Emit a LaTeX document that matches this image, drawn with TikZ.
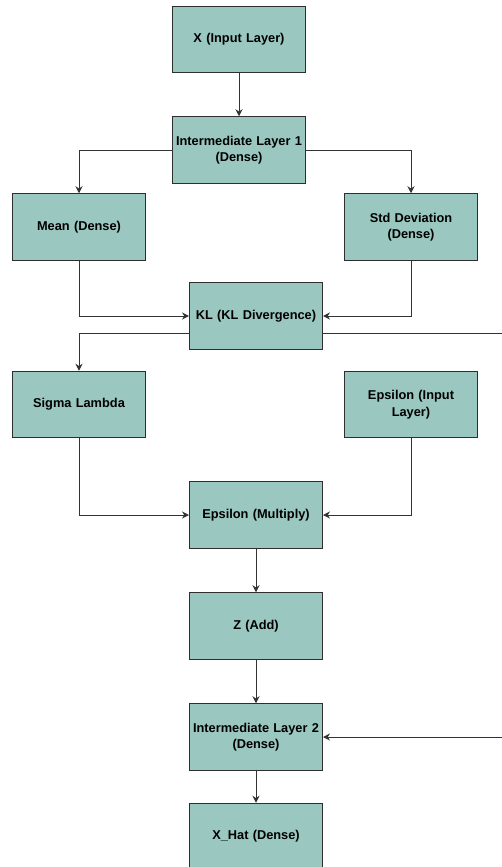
\documentclass[tikz,border=0pt]{standalone}
\usepackage{fontspec}
\setmainfont{Liberation Sans}
\usepackage{xcolor}
\usepackage{tikz}
\usetikzlibrary{arrows.meta,positioning}

\definecolor{layerfill}{HTML}{9AC7BF}
\definecolor{layerline}{HTML}{2E2E2E}
\definecolor{wire}{HTML}{333333}

\begin{document}
\begin{tikzpicture}[
				x = 1pt, y = -1pt,
				every node/.style = {font = \bfseries\fontsize{12.8}{16.5}\selectfont},
				layer/.style = {draw = layerline, fill = layerfill, line width = 1pt,
					minimum width = 133pt, minimum height = 66.5pt, inner sep = 0pt,
					text width = 132pt, align = center},
				link/.style = {draw = wire, line width = 1pt, -{Stealth[length=7pt,width=7pt]}}
				]
				\useasboundingbox (0,0) rectangle (501,867);
				
				\node [layer] (x) at (239,39.5) {X (Input Layer)};
				\node [layer] (il1) at (239,150) {Intermediate Layer 1\\ (Dense)};
				\node [layer] (mean) at (79,227) {Mean (Dense)};
				\node [layer] (std) at (411,227) {Std Deviation\\ (Dense)};
				\node [layer] (kl) at (256,316) {KL (KL Divergence)};
				\node [layer] (sigma) at (79,404.5) {Sigma Lambda};
				\node [layer] (eps) at (411,404.5) {Epsilon (Input\\ Layer)};
				\node [layer] (mul) at (256,515) {Epsilon (Multiply)};
				\node [layer] (z) at (256,626) {Z (Add)};
				\node [layer] (il2) at (256,737) {Intermediate Layer 2\\ (Dense)};
				\node [layer] (xhat) at (256,836.5) {X\_Hat (Dense)};
				
				\coordinate (klout) at ([yshift=-17pt]kl.east);
				\coordinate (loop) at (520,333);
				
				\draw [link] (x) -- (il1);
				\draw [link] (il1.west) -| (mean.north);
				\draw [link] (il1.east) -| (std.north);
				\draw [link] (mean.south) |- (kl.west);
				\draw [link] (std.south) |- (kl.east);
				\draw [link] ([yshift=-17pt]kl.west) -| (sigma.north);
				\draw [link] (klout) -- (loop) |- (il2.east);
				\draw [link] (sigma.south) |- (mul.west);
				\draw [link] (eps.south) |- (mul.east);
				\draw [link] (mul) -- (z);
				\draw [link] (z) -- (il2);
				\draw [link] (il2) -- (xhat);
			\end{tikzpicture}
\end{document}
